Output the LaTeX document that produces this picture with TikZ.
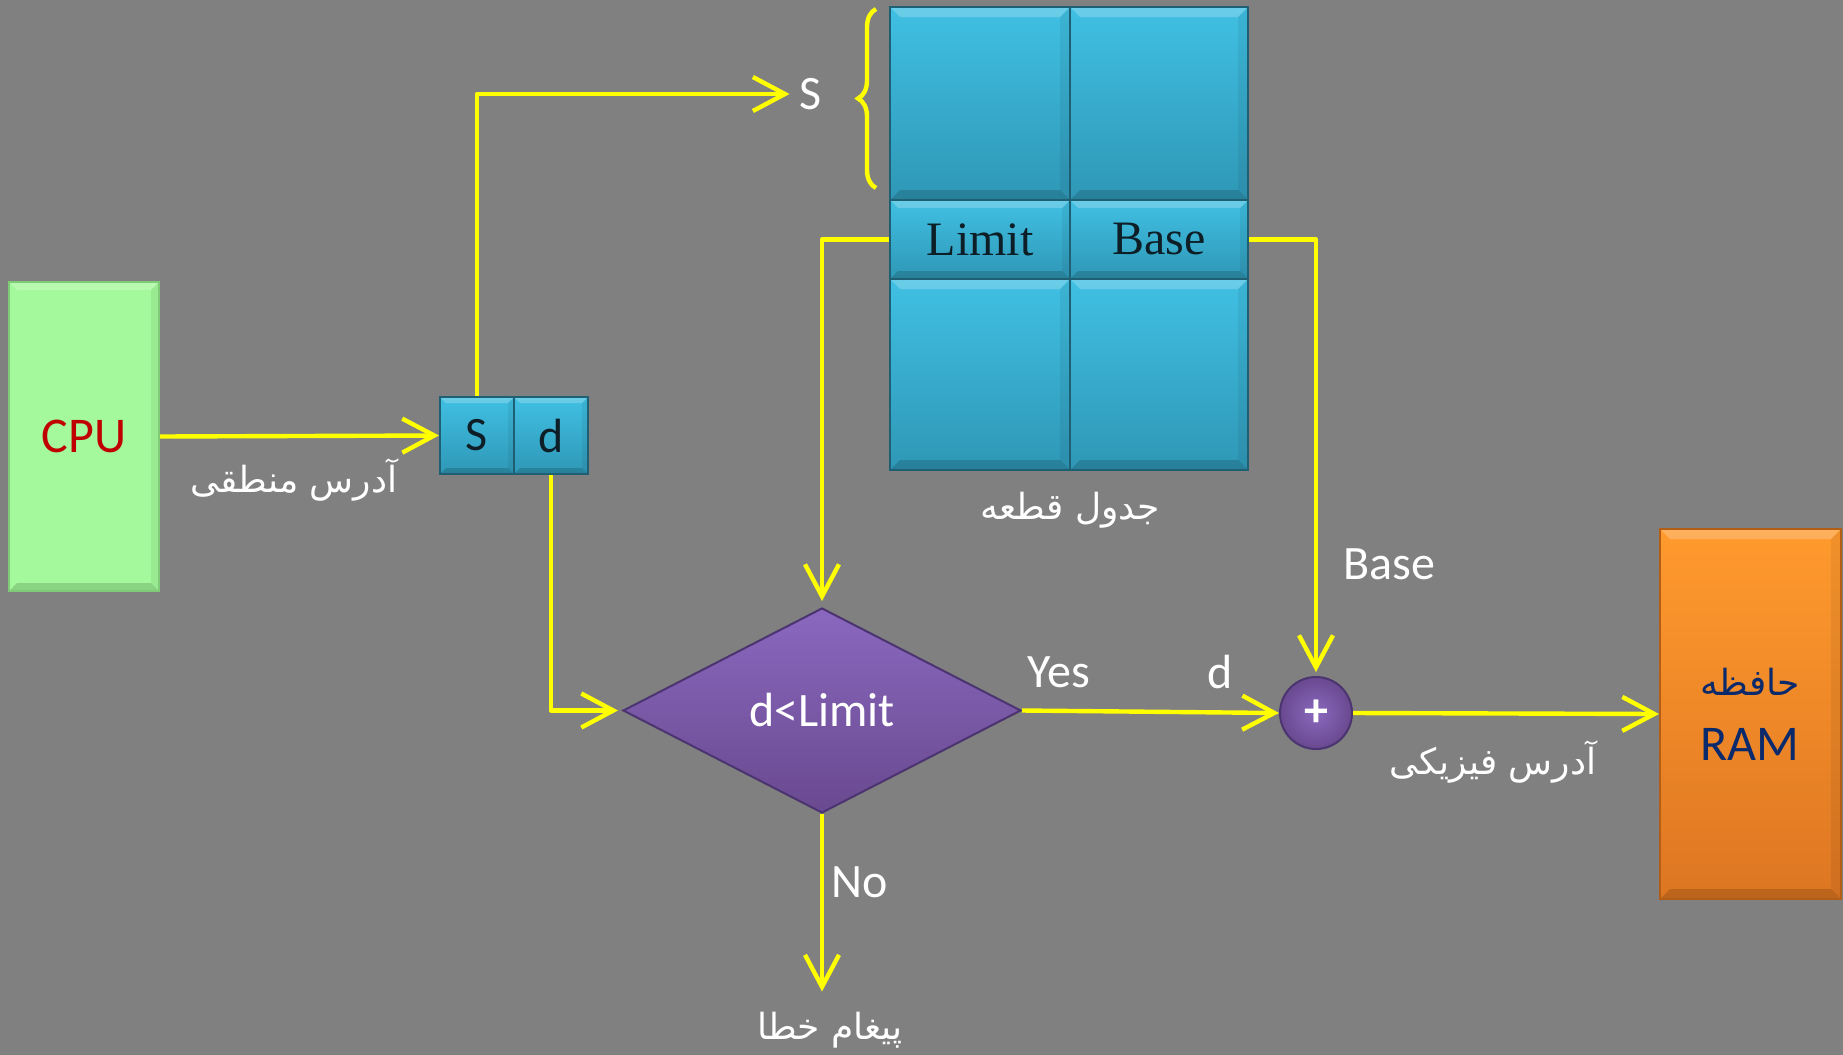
\documentclass[tikz,border=0pt]{standalone}
\usepackage{fontspec}
\setmainfont{Carlito}
\newfontfamily\tnr{Liberation Serif}
\newfontfamily\fa[Script=Arabic]{DejaVu Sans}
\TeXXeTstate=1
\usetikzlibrary{arrows.meta,shapes.geometric,shadows,decorations.pathreplacing}
\definecolor{bg}{HTML}{808080}
\definecolor{yel}{HTML}{FFFF00}
\definecolor{cpugreen}{HTML}{A3F99B}
\definecolor{cpuborder}{HTML}{7FCB78}
\definecolor{cpured}{HTML}{C00000}
\definecolor{tealtop}{HTML}{40C0E3}
\definecolor{tealbot}{HTML}{2F97B6}
\definecolor{tealedge}{HTML}{1F5F73}
\definecolor{purtop}{HTML}{8A68BF}
\definecolor{purbot}{HTML}{69498F}
\definecolor{puredge}{HTML}{4B3470}
\definecolor{orgtop}{HTML}{FF9A2E}
\definecolor{orgbot}{HTML}{DD7622}
\definecolor{orgedge}{HTML}{B35E17}
\definecolor{navy}{HTML}{0B2A6B}
\definecolor{ink}{HTML}{0E1E26}
\tikzset{
  bevel/.style={path picture={
    \fill[white,opacity=0.22] (path picture bounding box.north west) -- (path picture bounding box.north east)
      -- ([xshift=-#1,yshift=-#1]path picture bounding box.north east) -- ([xshift=#1,yshift=-#1]path picture bounding box.north west) -- cycle;
    \fill[black,opacity=0.15] (path picture bounding box.south west) -- (path picture bounding box.south east)
      -- ([xshift=-#1,yshift=#1]path picture bounding box.south east) -- ([xshift=#1,yshift=#1]path picture bounding box.south west) -- cycle;
    \fill[black,opacity=0.06] (path picture bounding box.north east) -- (path picture bounding box.south east)
      -- ([xshift=-#1,yshift=#1]path picture bounding box.south east) -- ([xshift=-#1,yshift=-#1]path picture bounding box.north east) -- cycle;
  }},
  box/.style={rectangle, inner sep=0pt, line width=1pt,
    drop shadow={opacity=0.35, shadow xshift=2pt, shadow yshift=-3pt}},
  cell/.style={box, draw=tealedge, top color=tealtop, bottom color=tealbot, bevel=5pt},
  txt/.style={text=white, font=\fontsize{24}{28}\selectfont, inner sep=2pt},
  fatxt/.style={text=white, font=\fa\fontsize{18}{22}\selectfont, inner sep=2pt},
  arr/.style={draw=yel, line width=2.2pt, line join=round,
    -{Straight Barb[length=16pt,width=17pt]}},
}
\begin{document}
\begin{tikzpicture}[x=0.5pt,y=-0.5pt]
\fill[bg] (0,0) rectangle (1843,1055);
\useasboundingbox (0,0) rectangle (1843,1055);

% CPU
\node[box, draw=cpuborder, fill=cpugreen, bevel=4pt, minimum width=75pt, minimum height=154.5pt,
  text=cpured, font=\fontsize{25}{29}\selectfont] (cpu) at (84,436.5) {CPU};

% logical address boxes
\node[cell, bevel=3pt, minimum width=37pt, minimum height=38.5pt, text=ink,
  font=\fontsize{24}{28}\selectfont] (sb) at (477,435.5) {S};
\node[cell, bevel=3pt, minimum width=37pt, minimum height=38.5pt, text=ink,
  font=\fontsize{24}{28}\selectfont] (db) at (551,435.5) {d};

% segment table
\node[cell, minimum width=90pt, minimum height=96.5pt] (c11) at (980,103.5) {};
\node[cell, minimum width=89pt, minimum height=96.5pt] (c12) at (1159,103.5) {};
\node[cell, bevel=4pt, minimum width=90pt, minimum height=39.5pt, text=ink,
  font=\tnr\fontsize{24}{28}\selectfont] (lim) at (980,239.5) {Limit};
\node[cell, bevel=4pt, minimum width=89pt, minimum height=39.5pt, text=ink,
  font=\tnr\fontsize{24}{28}\selectfont] (bas) at (1159,239.5) {Base};
\node[cell, minimum width=90pt, minimum height=95.5pt] (c31) at (980,374.5) {};
\node[cell, minimum width=89pt, minimum height=95.5pt] (c32) at (1159,374.5) {};

% diamond
\node[diamond, aspect=2, inner sep=0pt, minimum width=199pt, minimum height=102.5pt,
  draw=puredge, line width=1pt, top color=purtop, bottom color=purbot,
  drop shadow={opacity=0.35, shadow xshift=2pt, shadow yshift=-3pt},
  text=white, font=\fontsize{24}{28}\selectfont] (dia) at (822,710.5) {d<Limit};

% adder
\node[circle, minimum size=36pt, inner sep=0pt, draw=puredge, line width=1pt,
  inner color=purtop, outer color=purbot,
  drop shadow={opacity=0.35, shadow xshift=2pt, shadow yshift=-3pt},
  text=white, font=\bfseries\fontsize{24}{28}\selectfont] (plus) at (1316,713) {+};

% RAM
\node[box, draw=orgedge, top color=orgtop, bottom color=orgbot, bevel=5pt,
  minimum width=90.5pt, minimum height=185pt] (ram) at (1750.5,714) {};
\node[text=navy, font=\fa\fontsize{18}{22}\selectfont] (ramfa) at (1750,682) {\beginR حافظه\endR};
\node[text=navy, font=\fontsize{25}{29}\selectfont] (ramen) at (1750,744) {RAM};

% labels
\node[fatxt] (logaddr) at (294,480) {\beginR آدرس منطقی\endR};
\node[txt] (slab) at (811,94) {S};
\node[fatxt] (tbl) at (1070,510) {\beginR جدول قطعه\endR};
\node[txt] (baselab) at (1389,564) {Base};
\node[txt] (yes) at (1059,672) {Yes};
\node[txt] (dlab) at (1220,672) {d};
\node[fatxt] (phys) at (1493,762) {\beginR آدرس فیزیکی\endR};
\node[txt] (nolab) at (860,882) {No};
\node[fatxt] (err) at (830,1030) {\beginR پیغام خطا\endR};

% brace
\coordinate (bbot) at (876,188);
\coordinate (btop) at (876,9);
\draw[yel, line width=2.2pt, decorate, decoration={brace, amplitude=9pt}] (bbot) -- (btop);

% connectors
\draw[arr] (cpu.east) -- (sb.west);
\draw[arr, shorten >=3pt] (sb.north) |- (slab.west);
\draw[arr] (lim.west) -| ([yshift=3pt]dia.north);
\draw[arr] (bas.east) -| ([yshift=2pt]plus.north);
\draw[arr] (db.south) |- ([xshift=-2pt]dia.west);
\draw[arr] (dia.east) -- (plus.west);
\draw[arr] (plus.east) -- (ram.west);
\draw[arr, shorten >=8pt] (dia.south) -- (dia.south |- err.north);
\end{tikzpicture}
\end{document}
